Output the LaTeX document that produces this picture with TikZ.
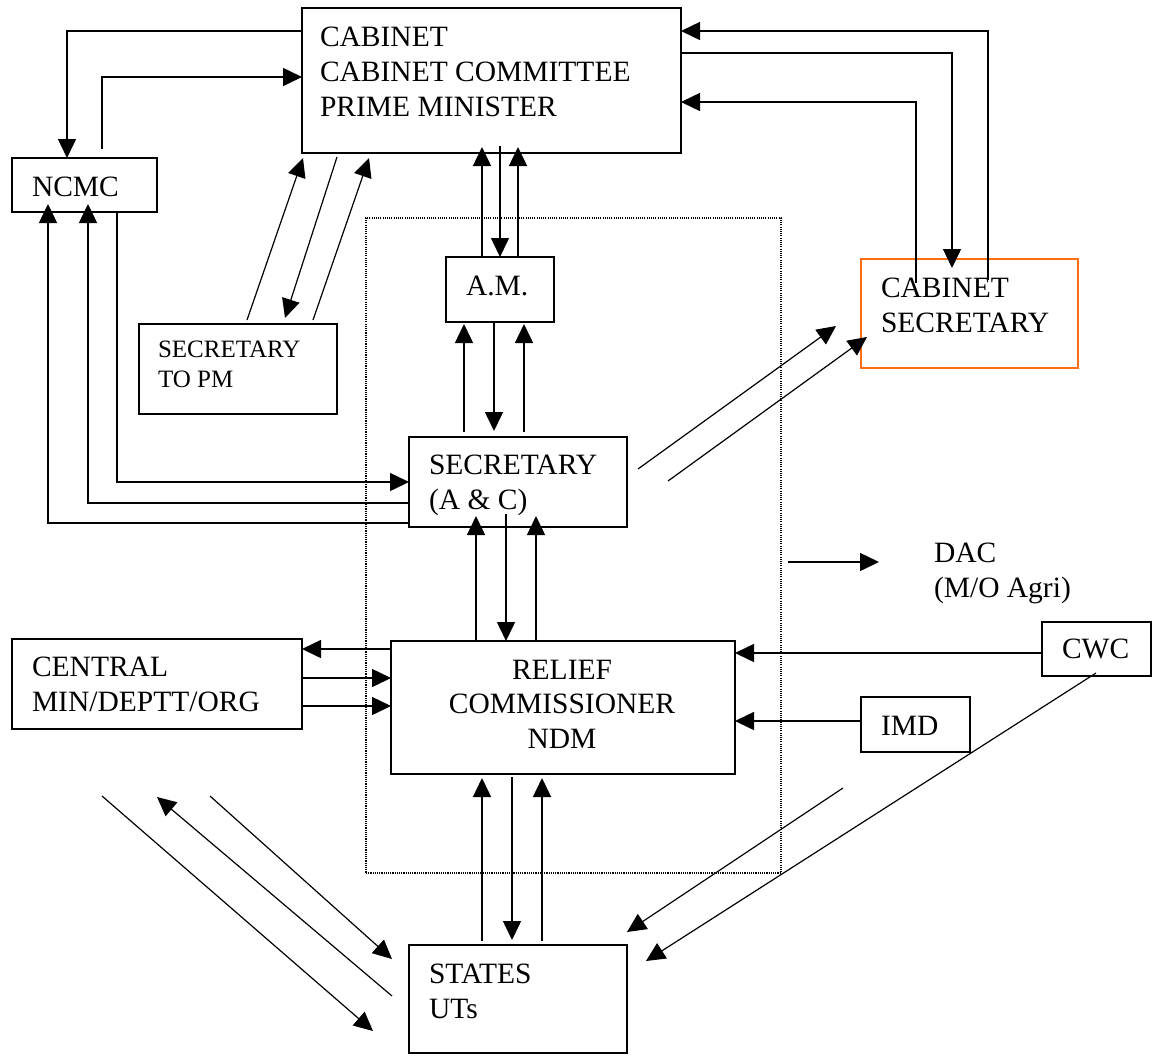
\documentclass[tikz,border=0pt]{standalone}
\usepackage{fontspec}
\setmainfont{Liberation Serif}
\usetikzlibrary{arrows.meta}
\definecolor{csecorange}{RGB}{255,110,20}
\newcommand{\mainsz}{\fontsize{29.5}{35}\selectfont}
\newcommand{\relsz}{\fontsize{29.5}{34.5}\selectfont}
\newcommand{\smsz}{\fontsize{25}{30}\selectfont}
\newcommand{\lines}[1]{\begin{tabular}[t]{@{}l@{}}#1\end{tabular}}
\newcommand{\clines}[1]{\begin{tabular}[t]{@{}c@{}}#1\end{tabular}}
\begin{document}
\begin{tikzpicture}[x=1pt,y=-1pt,
  box/.style={draw, line width=1.6pt, inner sep=0pt, outer sep=0pt, anchor=north west},
  grpbox/.style={draw, line width=1.1pt, dash pattern=on 1.1pt off 1.1pt, inner sep=0pt, outer sep=0pt, anchor=north west},
  txt/.style={anchor=base west, inner sep=0pt, outer sep=0pt, font=\mainsz},
  arr/.style={line width=1.5pt, -{Triangle[length=19pt,width=18pt]}},
  ln/.style={line width=1.5pt},
  darr/.style={line width=1.2pt, -{Triangle[length=19pt,width=18pt]}},
  dln/.style={line width=1.2pt}]
\useasboundingbox (0,0) rectangle (1155,1055);

% dotted group frame
\node[grpbox, minimum width=415pt, minimum height=655pt] (grp) at (366,218) {};

% boxes
\node[box, minimum width=379pt, minimum height=145pt] (cab) at (302,8) {};
\node[box, minimum width=145pt, minimum height=54pt] (ncmc) at (12,158) {};
\node[box, minimum width=198pt, minimum height=90pt] (stpm) at (139,324) {};
\node[box, minimum width=108pt, minimum height=65pt] (am) at (446,257) {};
\node[box, draw=csecorange, minimum width=217pt, minimum height=109pt] (csec) at (861,259) {};
\node[box, minimum width=218pt, minimum height=90pt] (sac) at (409,437) {};
\node[box, minimum width=290pt, minimum height=90pt] (central) at (12,639) {};
\node[box, minimum width=344pt, minimum height=133pt] (relief) at (391,641) {};
\node[box, minimum width=109pt, minimum height=54pt] (cwc) at (1042,622) {};
\node[box, minimum width=109pt, minimum height=55pt] (imd) at (861,697) {};
\node[box, minimum width=218pt, minimum height=108pt] (states) at (409,945) {};

% texts
\node[txt] (cabt) at (320,46) {\lines{CABINET\\CABINET COMMITTEE\\PRIME MINISTER}};
\node[txt] (ncmct) at (32,196) {NCMC};
\node[txt, font=\smsz] (stpmt) at (158,357) {\lines{SECRETARY\\TO PM}};
\node[txt] (amt) at (466,295) {A.M.};
\node[txt] (csect) at (881,297) {\lines{CABINET\\SECRETARY}};
\node[txt] (sact) at (429,474) {\lines{SECRETARY\\(A \& C)}};
\node[txt] (dact) at (934,562) {\lines{DAC\\(M/O Agri)}};
\node[txt] (centralt) at (32,676) {\lines{CENTRAL\\MIN/DEPTT/ORG}};
\node[txt, anchor=base, font=\relsz] (relieft) at (562,679) {\clines{RELIEF\\COMMISSIONER\\NDM}};
\node[txt] (cwct) at (1062,658) {CWC};
\node[txt] (imdt) at (881,735) {IMD};
\node[txt] (statest) at (429,983) {\lines{STATES\\UTs}};

% free ends
\coordinate (ncmcup) at (102,149);
\coordinate (sp1a) at (247,320); \coordinate (sp1b) at (303,158);
\coordinate (sp2a) at (337,157); \coordinate (sp2b) at (285,318);
\coordinate (sp3a) at (313,320); \coordinate (sp3b) at (369,158);
\coordinate (cs1a) at (638,469); \coordinate (cs1b) at (836,326);
\coordinate (cs2a) at (668,481); \coordinate (cs2b) at (867,337);
\coordinate (cw1a) at (1096,673); \coordinate (cw1b) at (646,961);
\coordinate (cw2a) at (843,788); \coordinate (cw2b) at (627,932);
\coordinate (l1a) at (102,796); \coordinate (l1b) at (373,1031);
\coordinate (l2a) at (392,996); \coordinate (l2b) at (157,797);
\coordinate (l3a) at (210,796); \coordinate (l3b) at (392,959);
\coordinate (daca) at (788,562); \coordinate (dacb) at (879,562);

% cabinet <-> NCMC
\draw[arr] (cab.west |- 0,31) -| (ncmc.north -| 67,0);
\draw[arr] (ncmcup) |- (cab.west |- 0,77);

% secretary (A&C) <-> NCMC
\draw[arr] (sac.west |- 0,523) -| ([yshift=8pt]ncmc.south -| 48,0);
\draw[arr] (sac.west |- 0,503) -| ([yshift=8pt]ncmc.south -| 88,0);
\draw[arr] (ncmc.south -| 117,0) |- (sac.west |- 0,482);

% secretary to PM <-> cabinet
\draw[darr] (sp1a) -- (sp1b);
\draw[darr] (sp2a) -- (sp2b);
\draw[darr] (sp3a) -- (sp3b);

% A.M. <-> cabinet
\draw[arr] (am.north -| 482,0) -- ([yshift=6pt]cab.south -| 482,0);
\draw[arr] (am.north -| 518,0) -- ([yshift=6pt]cab.south -| 518,0);
\draw[arr] ([yshift=7pt]cab.south -| 500,0) -- (am.north -| 500,0);

% secretary <-> A.M.
\draw[arr] ([yshift=5pt]sac.north -| 464,0) -- ([yshift=-2pt]am.south -| 464,0);
\draw[arr] ([yshift=5pt]sac.north -| 524,0) -- ([yshift=-2pt]am.south -| 524,0);
\draw[arr] (am.south -| 494,0) -- ([yshift=6pt]sac.north -| 494,0);

% relief <-> secretary
\draw[arr] (relief.north -| 476,0) -- ([yshift=11pt]sac.south -| 476,0);
\draw[arr] (relief.north -| 536,0) -- ([yshift=11pt]sac.south -| 536,0);
\draw[arr] ([yshift=13pt]sac.south -| 506,0) -- (relief.north -| 506,0);

% secretary -> cabinet secretary
\draw[darr] (cs1a) -- (cs1b);
\draw[darr] (cs2a) -- (cs2b);

% cabinet secretary <-> cabinet
\draw[arr] ([yshift=-21pt]csec.north -| 988,0) |- (cab.east |- 0,31);
\draw[arr] (cab.east |- 0,53) -| ([yshift=-9pt]csec.north -| 952,0);
\draw[arr] ([yshift=-24pt]csec.north -| 916,0) |- (cab.east |- 0,102);

% DAC
\draw[arr] (daca) -- (dacb);

% central <-> relief
\draw[arr] (relief.west |- 0,649) -- (central.east |- 0,649);
\draw[arr] (central.east |- 0,678) -- (relief.west |- 0,678);
\draw[arr] (central.east |- 0,706) -- (relief.west |- 0,706);

% CWC, IMD -> relief
\draw[arr] (cwc.west |- 0,653) -- (relief.east |- 0,653);
\draw[arr] (imd.west |- 0,721) -- (relief.east |- 0,721);

% relief <-> states
\draw[arr] ([yshift=4pt]states.north -| 482,0) -- ([yshift=-4pt]relief.south -| 482,0);
\draw[arr] ([yshift=4pt]states.north -| 542,0) -- ([yshift=-4pt]relief.south -| 542,0);
\draw[arr] ([yshift=-3pt]relief.south -| 512,0) -- ([yshift=5pt]states.north -| 512,0);

% CWC -> states
\draw[darr] (cw1a) -- (cw1b);
\draw[darr] (cw2a) -- (cw2b);

% left diagonals <-> states
\draw[darr] (l1a) -- (l1b);
\draw[darr] (l2a) -- (l2b);
\draw[darr] (l3a) -- (l3b);
\end{tikzpicture}
\end{document}
